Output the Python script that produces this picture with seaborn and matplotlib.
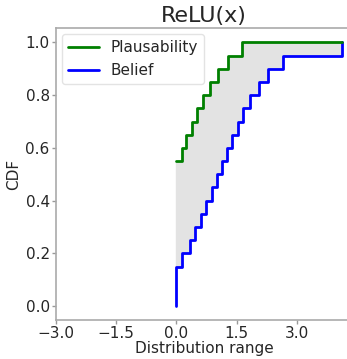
import numpy as np
import pandas as pd
import seaborn as sns
import matplotlib.pyplot as plt

# step locations (x where CDF jumps) and CDF levels after each jump
plaus_x = [0.0, 0.13, 0.25, 0.39, 0.52, 0.67, 0.84, 1.04, 1.28, 1.64, 4.12]
plaus_cdf = [0.55, 0.60, 0.65, 0.70, 0.75, 0.80, 0.85, 0.90, 0.95, 1.00, 1.00]

belief_x = [0.0, 0.0, 0.14, 0.33, 0.47, 0.62, 0.74, 0.88, 1.01, 1.13, 1.26,
            1.39, 1.53, 1.66, 1.84, 2.05, 2.28, 2.66, 4.12, 4.12]
belief_cdf = [0.0, 0.15, 0.20, 0.25, 0.30, 0.35, 0.40, 0.45, 0.50, 0.55, 0.60,
              0.65, 0.70, 0.75, 0.80, 0.85, 0.90, 0.95, 0.95, 1.00]

x_ticks = [-3.0, -1.5, 0.0, 1.5, 3.0]

sns.set_style("white")
plt.rcParams['font.family'] = ['DejaVu Sans']

fig = plt.figure(figsize=(3.47, 3.59), dpi=100)
ax = fig.add_axes([56 / 347, 1 - 320 / 359, (352 - 56) / 347, (320 - 28) / 359])

# shaded region between the two bounds
grid = np.unique(np.concatenate([plaus_x, belief_x]))
lo_step = [belief_cdf[np.searchsorted(belief_x, g, side='right') - 1] for g in grid]
hi_step = [plaus_cdf[np.searchsorted(plaus_x, g, side='right') - 1] for g in grid]
ax.fill_between(grid, lo_step, hi_step, step='post', color='#e3e3e3', zorder=1)

plaus = pd.DataFrame({'x': plaus_x, 'cdf': plaus_cdf})
belief = pd.DataFrame({'x': belief_x, 'cdf': belief_cdf})
sns.lineplot(data=plaus, x='x', y='cdf', drawstyle='steps-post', color='green',
             lw=2, label='Plausability', ax=ax, zorder=3, estimator=None, sort=False)
sns.lineplot(data=belief, x='x', y='cdf', drawstyle='steps-post', color='blue',
             lw=2, label='Belief', ax=ax, zorder=2, estimator=None, sort=False)

ax.set_xlim(-3.0, (352 - 177) / 40)
ax.set_ylim(-0.053, 1.055)
ax.set_xticks(x_ticks)
ax.set_xticklabels([f"{t:.1f}".replace('-', '\u2212') for t in x_ticks])
ax.set_yticks([0.0, 0.2, 0.4, 0.6, 0.8, 1.0])

ax.set_title("ReLU(x)", fontsize=16, pad=4)
ax.set_xlabel("Distribution range", fontsize=11, labelpad=0)
ax.set_ylabel("CDF", fontsize=11, labelpad=3)
ax.tick_params(axis='both', labelsize=11, length=3, width=1, color='#999999',
               direction='out', bottom=True, left=True, pad=1.5)
for s in ax.spines.values():
    s.set_color('#aaaaaa')
    s.set_linewidth(1.2)

leg = ax.legend(loc='upper left', fontsize=11, frameon=True, handlelength=2.0,
                borderaxespad=0.4)
leg.get_frame().set_edgecolor('#dddddd')

fig.savefig('out.png', dpi=100)
